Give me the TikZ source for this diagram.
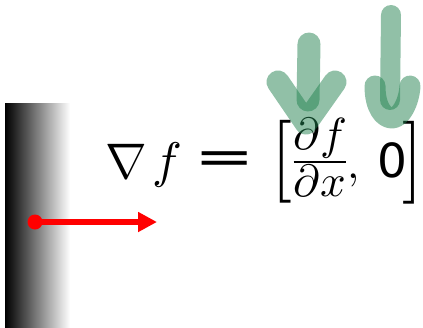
\documentclass[tikz,border=0pt]{standalone}
\usepackage{fontspec}
\usepackage{unicode-math}
\setmathfont{Latin Modern Math}
\newfontfamily\dejavu{DejaVu Sans}
\usetikzlibrary{arrows.meta}
\definecolor{gr}{RGB}{35,130,80}
\begin{document}
\begin{tikzpicture}[x=1pt,y=-1pt,
  fm/.style={inner sep=0pt, outer sep=0pt},
  gstroke/.style={line width=#1, line cap=round, line join=round, draw=gr, draw opacity=0.5},
  gstroke/.default=22pt]
\useasboundingbox (0,0) rectangle (423,327);
% gradient bar
\shade[left color=black, right color=white] (5,103) rectangle (70,327);
% red arrow
\node[circle, fill=red, minimum size=15pt, inner sep=0pt] (dot) at (35,222) {};
\coordinate (tip) at (157,222);
\draw[red, line width=5.5pt, -{Triangle[length=19pt,width=19pt]}] (dot.center) -- (tip);
% formula
\node[fm, font=\fontsize{50}{60}\selectfont, anchor=base west] (nabla) at (105,178) {$\nabla$};
\node[fm, font=\fontsize{50}{60}\selectfont] (f) at (167,164.5) {$f$};
\node[fm, font=\fontsize{48}{58}\selectfont] (eq) at (224.5,162.5) {\dejavu\scalebox{1.5}[1]{=}};
\node[fm, font=\fontsize{83}{90}\selectfont] (lb) at (282,161.5) {[};
\node[fm, font=\fontsize{45}{54}\selectfont, anchor=base] (frac) at (320,173) {$\frac{\textstyle\partial f}{\textstyle\partial x}$};
\node[fm, font=\fontsize{44}{50}\selectfont, anchor=base west] (comma) at (347,178) {$,$};
\node[fm, font=\fontsize{47}{56}\selectfont] (zero) at (392.5,160) {\dejavu 0};
\node[fm, font=\fontsize{83}{90}\selectfont] (rb) at (413,163) {]};
% green arrows
\coordinate (a1top) at (309,44);
\coordinate (a1bot) at (308,100);
\coordinate (a1l) at (278,82);
\coordinate (a1v) at (306,123);
\coordinate (a1r) at (335,82);
\draw[gstroke=23pt] (a1top) -- (a1bot);
\draw[gstroke=23pt] (a1l) -- (a1v) -- (a1r);
\coordinate (a2top) at (391,15);
\coordinate (a2bot) at (390,100);
\coordinate (a2l) at (375,86);
\coordinate (a2v) at (392,118);
\coordinate (a2r) at (410,86);
\draw[gstroke=20pt] (a2top) -- (a2bot);
\draw[gstroke=21pt] (a2l) .. controls (375,108) and (384,118) .. (a2v) .. controls (401,118) and (409,102) .. (a2r);
\end{tikzpicture}
\end{document}
